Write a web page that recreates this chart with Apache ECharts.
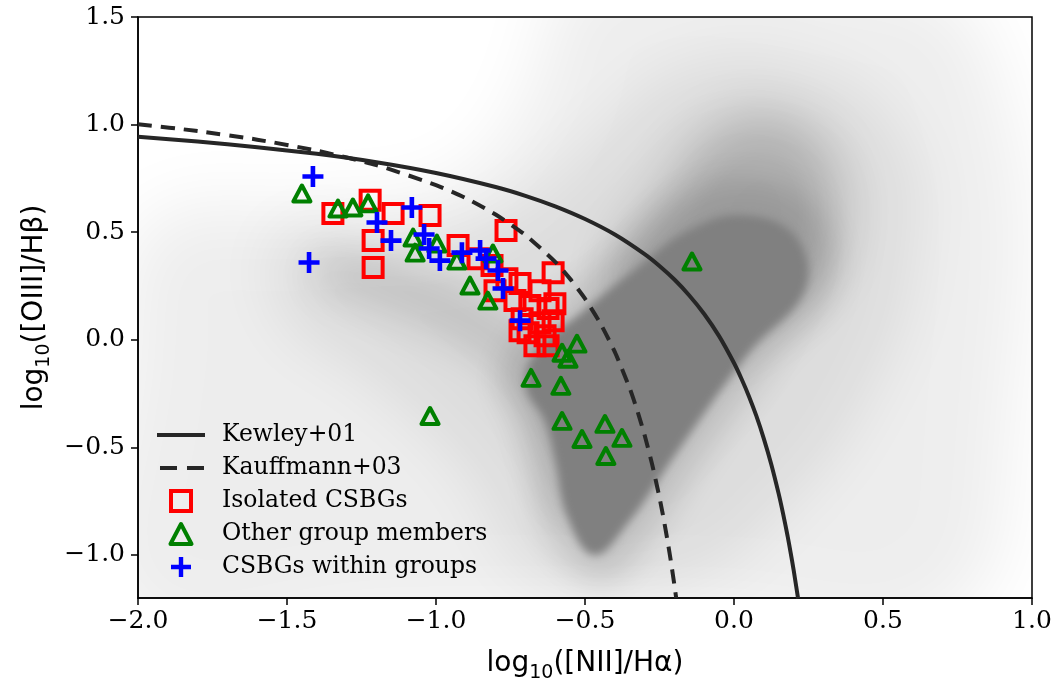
<!DOCTYPE html>
<html><head><meta charset="utf-8">
<script src="https://cdn.jsdelivr.net/npm/echarts@6/dist/echarts.min.js"></script>
<style>html,body{margin:0;padding:0;background:#fff}#c{width:1062px;height:689px}</style>
</head><body><div id="c"></div>
<script>
// tick values
const xTicks = [-2.0, -1.5, -1.0, -0.5, 0.0, 0.5, 1.0];
const yTicks = [-1.0, -0.5, 0.0, 0.5, 1.0, 1.5];

// demarcation curves
const kewley = [[-2.0,0.943],[-1.8,0.921],[-1.6,0.895],[-1.4,0.864],[-1.2,0.825],[-1.0,0.775],[-0.8,0.710],[-0.7,0.669],[-0.6,0.620],[-0.5,0.561],[-0.4,0.489],[-0.3,0.398],[-0.25,0.343],[-0.2,0.280],[-0.15,0.206],[-0.1,0.120],[-0.05,0.017],[0.0,-0.108],[0.025,-0.181],[0.05,-0.262],[0.075,-0.354],[0.1,-0.459],[0.125,-0.578],[0.15,-0.716],[0.165,-0.810],[0.18,-0.913],[0.19,-0.989],[0.2,-1.069],[0.215,-1.202]];
const kauffmann = [[-2.0,1.002],[-1.8,0.970],[-1.6,0.930],[-1.4,0.879],[-1.2,0.812],[-1.0,0.719],[-0.9,0.658],[-0.8,0.582],[-0.7,0.487],[-0.6,0.362],[-0.55,0.283],[-0.5,0.191],[-0.45,0.080],[-0.4,-0.056],[-0.35,-0.225],[-0.325,-0.327],[-0.3,-0.443],[-0.275,-0.577],[-0.25,-0.733],[-0.235,-0.840],[-0.22,-0.959],[-0.21,-1.046],[-0.2,-1.14],[-0.194,-1.2]];

// galaxies
const isolated = [[-1.346,0.587],[-1.221,0.648],[-1.144,0.587],[-1.020,0.578],[-1.211,0.461],[-1.211,0.336],[-0.765,0.508],[-0.926,0.438],[-0.859,0.377],[-0.812,0.345],[-0.762,0.284],[-0.802,0.228],[-0.718,0.261],[-0.651,0.228],[-0.607,0.312],[-0.735,0.182],[-0.685,0.159],[-0.624,0.145],[-0.601,0.168],[-0.711,0.098],[-0.651,0.079],[-0.607,0.089],[-0.691,0.033],[-0.634,0.019],[-0.668,-0.028],[-0.624,-0.028],[-0.718,0.042]];
const others = [[-1.450,0.680],[-1.329,0.610],[-1.279,0.615],[-1.228,0.634],[-1.077,0.475],[-1.070,0.405],[-0.997,0.447],[-0.930,0.368],[-0.809,0.401],[-0.886,0.252],[-0.826,0.182],[-0.527,-0.018],[-0.577,-0.060],[-0.557,-0.088],[-0.681,-0.177],[-0.581,-0.214],[-0.577,-0.377],[-0.510,-0.461],[-0.433,-0.391],[-0.376,-0.456],[-0.430,-0.540],[-1.020,-0.354],[-0.141,0.364]];
const withinGroups = [[-1.413,0.759],[-1.426,0.359],[-1.198,0.545],[-1.151,0.461],[-1.081,0.615],[-1.040,0.489],[-1.023,0.424],[-0.987,0.368],[-0.913,0.405],[-0.852,0.415],[-0.832,0.377],[-0.792,0.322],[-0.775,0.238],[-0.718,0.089]];

// outlines of the background galaxy density cloud (data coordinates)
const cloudHaze = [[-1.95,0.55],[-1.45,0.62],[-0.95,0.72],[-0.7,1.1],[-0.5,1.7],[0.4,1.7],[0.85,1.35],[0.92,-0.5],[0.7,-1.3],[-0.1,-1.3],[-1.1,-1.3],[-2.05,-1.3],[-2.05,-0.05]];
const cloudOuter = [[-1.5,0.5],[-1.1,0.45],[-0.75,0.6],[-0.45,0.95],[-0.18,1.25],[0.25,1.25],[0.55,0.95],[0.6,0.4],[0.45,-0.25],[0.15,-0.8],[-0.15,-1.1],[-0.65,-1.1],[-0.9,-0.6],[-1.25,-0.15],[-1.5,0.1]];
const cloudBand = [[-1.35,0.40],[-1.0,0.30],[-0.8,0.15],[-0.65,0.0],[-0.55,-0.3],[-0.5,-0.7],[-0.56,-0.78],[-0.66,-0.5],[-0.76,-0.2],[-0.95,0.0],[-1.2,0.15],[-1.4,0.28]];
const cloudWing = [[-0.4,0.3],[-0.22,0.72],[-0.06,0.98],[0.14,1.04],[0.3,0.9],[0.36,0.6],[0.3,0.3],[0.1,0.08],[-0.1,-0.05],[-0.3,0.05]];
const cloudHalo = [[-0.45,-1.12],[-0.62,-0.9],[-0.68,-0.56],[-0.72,-0.36],[-0.78,-0.2],[-0.72,0.0],[-0.55,0.22],[-0.36,0.45],[-0.18,0.66],[0.04,0.75],[0.27,0.62],[0.33,0.26],[0.12,-0.12],[-0.12,-0.58],[-0.3,-0.95]];
const cloudCore = [[-0.47,-1.0],[-0.56,-0.82],[-0.60,-0.56],[-0.635,-0.38],[-0.70,-0.21],[-0.66,-0.05],[-0.50,0.14],[-0.32,0.34],[-0.15,0.51],[0.02,0.58],[0.20,0.49],[0.24,0.24],[0.05,-0.06],[-0.19,-0.52],[-0.36,-0.86]];

const fmt = v => (Math.abs(v) < 1e-9 ? '0.0' : v.toFixed(1)).replace('-', '\u2212');
const SERIF = 'DejaVu Serif', SANS = 'DejaVu Sans';
const plusPath = 'path://M3.9,0H6.1V3.9H10V6.1H6.1V10H3.9V6.1H0V3.9H3.9Z';
const OFF = 4000;

// soft-edged layer: the polygon itself is drawn off-canvas and only its blurred shadow lands in place
function cloudLayer(points, color, blur, smooth) {
  return {
    type: 'custom', coordinateSystem: 'cartesian2d', clip: true, silent: true, z: 1,
    data: points, encode: {x: 0, y: 1},
    renderItem: function (params, api) {
      if (params.dataIndex !== 0) return;
      const pts = points.map(p => { const c = api.coord(p); return [c[0] + OFF, c[1]]; });
      return {type: 'polygon', shape: {points: pts, smooth: smooth},
        style: {fill: '#000', shadowBlur: blur, shadowColor: color, shadowOffsetX: -OFF, shadowOffsetY: 0}};
    }
  };
}

const nameRich = {
  b: {fontFamily: SANS, fontSize: 28, color: '#000', lineHeight: 28, verticalAlign: 'top'},
  s: {fontFamily: SANS, fontSize: 19, color: '#000', lineHeight: 19, verticalAlign: 'top', padding: [14, 0, 0, 0]}
};

const chart = echarts.init(document.getElementById('c'), null, {renderer: 'canvas'});
chart.setOption({
  animation: false,
  backgroundColor: '#fff',
  grid: {left: 138, right: 30, top: 17, bottom: 91, show: true, borderColor: '#000', borderWidth: 1.5, backgroundColor: '#fff'},
  xAxis: {
    type: 'value', min: -2, max: 1,
    axisLine: {show: true, onZero: false, lineStyle: {color: '#000', width: 1.5}},
    axisTick: {show: true, inside: false, length: 7, lineStyle: {color: '#000', width: 1.5}, customValues: xTicks},
    axisLabel: {customValues: xTicks, formatter: fmt, fontFamily: SERIF, fontSize: 25, color: '#000', margin: 11},
    splitLine: {show: false},
    name: '{b|log}{s|10}{b|([NII]/H\u03b1)}', nameLocation: 'middle', nameGap: 52,
    nameTextStyle: {rich: nameRich}
  },
  yAxis: {
    type: 'value', min: -1.2, max: 1.5,
    axisLine: {show: true, onZero: false, lineStyle: {color: '#000', width: 1.5}},
    axisTick: {show: true, inside: false, length: 7, lineStyle: {color: '#000', width: 1.5}, customValues: yTicks},
    axisLabel: {customValues: yTicks, formatter: fmt, fontFamily: SERIF, fontSize: 25, color: '#000', margin: 13},
    splitLine: {show: false},
    name: '{b|log}{s|10}{b|([OIII]/H\u03b2)}', nameLocation: 'middle', nameGap: 76, nameRotate: 90,
    nameTextStyle: {rich: nameRich}
  },
  legend: {
    show: true, orient: 'vertical', left: 152, top: 418,
    itemWidth: 48, itemHeight: 20, itemGap: 9,
    textStyle: {fontFamily: SERIF, fontSize: 23.5, color: '#000', lineHeight: 20, padding: [0, 0, 0, 12]},
    data: [
      {name: 'Kewley+01', icon: 'path://M0,0H48V4H0Z'},
      {name: 'Kauffmann+03', icon: 'path://M3,0H20V4H3Z M30,0H47V4H30Z M0,0H0.01V0.01H0Z M48,0H48.01V0.01H48Z'},
      {name: 'Isolated CSBGs', icon: 'path://M0,0H10V10H0Z', itemStyle: {borderWidth: 4}},
      {name: 'Other group members', icon: 'path://M5,0L10,9.5H0Z', itemStyle: {borderWidth: 4}},
      {name: 'CSBGs within groups', icon: plusPath}
    ]
  },
  series: [
    cloudLayer(cloudHaze, 'rgba(0,0,0,0.07)', 70, 0.5),
    cloudLayer(cloudOuter, 'rgba(0,0,0,0.07)', 60, 0.5),
    cloudLayer(cloudBand, 'rgba(0,0,0,0.12)', 40, 0.5),
    cloudLayer(cloudWing, 'rgba(0,0,0,0.20)', 50, 0.5),
    cloudLayer(cloudHalo, 'rgba(0,0,0,0.13)', 30, 0.4),
    cloudLayer(cloudCore, 'rgba(128,128,128,1)', 9, 0.4),
    {name: 'Isolated CSBGs', type: 'scatter', data: isolated, symbol: 'rect', symbolSize: 19, z: 5,
      itemStyle: {color: 'rgba(0,0,0,0)', borderColor: '#ff0000', borderWidth: 4, opacity: 1}},
    {name: 'Other group members', type: 'scatter', data: others, symbol: 'triangle', symbolSize: [17, 16], z: 6,
      itemStyle: {color: 'rgba(0,0,0,0)', borderColor: '#008000', borderWidth: 4, borderJoin: 'round', opacity: 1}},
    {name: 'CSBGs within groups', type: 'scatter', data: withinGroups, symbol: plusPath, symbolSize: 21, z: 7,
      itemStyle: {color: '#0000ff', opacity: 1}},
    {name: 'Kewley+01', type: 'line', data: kewley, symbol: 'none', smooth: 0.2, z: 8, clip: true,
      lineStyle: {color: '#262626', width: 4}, itemStyle: {color: '#262626'}},
    {name: 'Kauffmann+03', type: 'line', data: kauffmann, symbol: 'none', smooth: 0.2, z: 8, clip: true,
      lineStyle: {color: '#262626', width: 4, type: [14, 9]}, itemStyle: {color: '#262626'}}
  ]
});
</script></body></html>
